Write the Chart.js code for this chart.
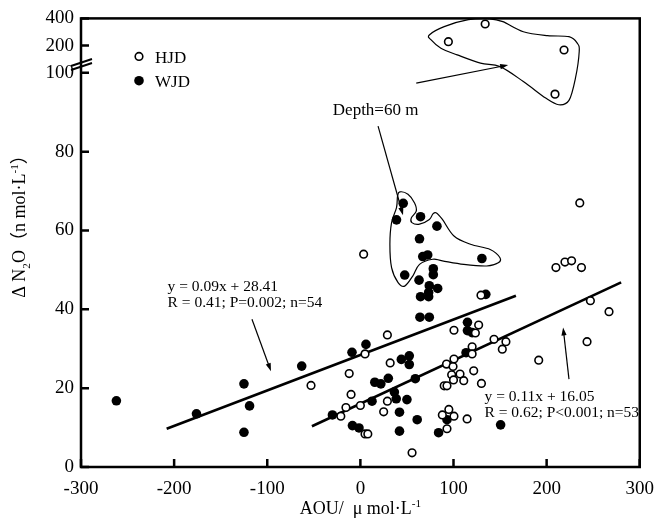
<!DOCTYPE html>
<html>
<head>
<meta charset="utf-8">
<script src="https://cdn.jsdelivr.net/npm/chart.js@4.4.1/dist/chart.umd.min.js"></script>
<style>
  html, body { margin: 0; padding: 0; background: #fff; }
</style>
</head>
<body>
<canvas id="n2oChart" width="665" height="523"></canvas>
<script>
// AOU (umol/L) against excess N2O (nmol/L), HJD and WJD stations
const hjdAou = [-53, -21, -15.5, -12, -10, 0, 5, 5, 8, 25, 29, 29, 32, 3.5, 55.5,
  88, 90, 93, 93, 92.5, 95, 98, 99.5, 100, 100.5, 100.5, 100.5, 107, 111, 114.6,
  120, 120, 121.7, 123.5, 127, 130, 143.5, 152.4, 156.3, 129.5, 191.5, 210, 219.7,
  226.8, 237.4, 235.6, 243.4, 247, 267, 209];
const hjdN2o = [20.7, 12.9, 15.1, 23.7, 18.4, 15.6, 28.7, 8.4, 8.4, 14.0, 16.7, 33.5, 26.4, 54, 3.6,
  13.2, 20.6, 20.6, 9.7, 26.1, 14.6, 23.4, 25.5, 22.1, 27.4, 12.9, 34.7, 23.6, 21.9, 12.2,
  30.5, 28.7, 24.4, 34, 36, 21.2, 32.4, 29.9, 31.8, 43.6, 27.1, 50.6, 52,
  52.3, 50.6, 67, 31.8, 42.2, 39.4, 94.6];
// HJD samples above the axis break (log segment)
const hjdHighAou = [94.5, 134, 218.7];
const hjdHighN2o = [221, 347, 179];

const wjdAou = [-262, -176, -125, -119, -125, -63, -9, 6, -30, -8.5, -1.5, 15.5, 22, 30, 12.5,
  64, 74, 44, 52.5, 52.5, 59, 36.5, 38.5, 50, 42, 61, 42, 115, 115, 120, 113.5, 93, 84, 150.6,
  46, 38.8, 64.6, 82.2, 63.5, 67, 72.3, 130.5, 47.6, 78.3, 78.3, 63, 74, 83, 73.3, 64.6, 73.3, 134.7];
const wjdN2o = [16.8, 13.5, 21.1, 15.5, 8.8, 25.6, 29.1, 31.1, 13.2, 10.5, 9.9, 21.5, 21.1, 22.5, 16.7,
  38, 38, 27.3, 28.2, 26, 22.4, 19, 17.3, 17.1, 13.9, 12, 9.1, 36.7, 34.6, 34.1, 29, 12, 8.7, 10.7,
  66.9, 62.7, 63.5, 61.1, 57.9, 53.4, 53.8, 52.9, 48.7, 50.3, 48.8, 47.4, 46, 45.3, 44.3, 43.2, 43.2, 43.8];

const xTicks = [-300, -200, -100, 0, 100, 200, 300];
const yTicks = [0, 20, 40, 60, 80, 100];
const yHighTicks = [200, 400];

// printed regressions and the AOU span each line covers
const fitWjd = { slope: 0.09, intercept: 28.41, from: -208, to: 167 };
const fitHjd = { slope: 0.11, intercept: 16.05, from: -52, to: 280 };

const FONT = "'Liberation Serif', 'Times New Roman', 'Noto Sans CJK SC', serif";

const pts = (xs, ys) => xs.map((x, i) => ({ x, y: ys[i] }));
const fitLine = f => [f.from, f.to].map(x => ({ x, y: f.slope * x + f.intercept }));

// outlines and arrows, in data units
const deepOutline = [[74, 262], [90, 324], [116, 387], [139, 396], [153, 368], [175, 285], [201, 258],
  [224, 251], [233, 212], [235, 172], [231, 98.7], [224, 93], [213, 91.9], [199, 93.6], [175, 97.8],
  [150, 117], [129, 128], [104, 158], [86.5, 187], [76, 231]];
const midOutline = [[42.3, 69.8], [51.1, 69.2], [58.2, 67.0], [60.0, 64.9], [54.7, 63.2], [55.3, 62.0],
  [63.5, 61.6], [74.1, 62.8], [77.6, 64.1], [81.2, 64.5], [88.1, 62.8], [100.5, 58.6], [118.2, 56.5],
  [139.4, 55.2], [149.9, 53.1], [148.1, 51.8], [135.8, 51.0], [111.1, 51.4], [88.1, 52.3], [77.6, 52.7],
  [63.5, 51.4], [56.4, 48.5], [47.6, 45.9], [40.5, 46.8], [33.5, 50.6], [31.7, 56.5], [33.5, 62.0],
  [38.8, 65.8], [39.9, 68.7]];
const arrows = [
  [60, 97.4, 158.7, 122],
  [19, 86.5, 45.8, 63.9],
  [-116.4, 37.5, -96, 24.3],
  [224, 22.3, 217.7, 35.4]
];
const notes = [
  { text: 'Depth=60 m', x: -29.6, y: 89.4, size: 17 },
  { text: 'y = 0.09x + 28.41', x: -207, y: 44.7, size: 15.5 },
  { text: 'R = 0.41; P=0.002; n=54', x: -207, y: 40.5, size: 15.5 },
  { text: 'y = 0.11x + 16.05', x: 133.3, y: 16.8, size: 15.5 },
  { text: 'R = 0.62; P<0.001; n=53', x: 133.3, y: 12.6, size: 15.5 }
];

function smoothLoop(ctx, p) {
  const n = p.length;
  ctx.beginPath();
  ctx.moveTo(p[0][0], p[0][1]);
  for (let i = 0; i < n; i++) {
    const p0 = p[(i - 1 + n) % n], p1 = p[i], p2 = p[(i + 1) % n], p3 = p[(i + 2) % n];
    ctx.bezierCurveTo(
      p1[0] + (p2[0] - p0[0]) / 6, p1[1] + (p2[1] - p0[1]) / 6,
      p2[0] - (p3[0] - p1[0]) / 6, p2[1] - (p3[1] - p1[1]) / 6,
      p2[0], p2[1]);
  }
  ctx.closePath();
  ctx.stroke();
}

function drawArrow(ctx, x1, y1, x2, y2) {
  const ang = Math.atan2(y2 - y1, x2 - x1);
  const len = 8, half = 2.6;
  ctx.beginPath();
  ctx.moveTo(x1, y1);
  ctx.lineTo(x2 - Math.cos(ang) * len * 0.8, y2 - Math.sin(ang) * len * 0.8);
  ctx.stroke();
  ctx.beginPath();
  ctx.moveTo(x2, y2);
  ctx.lineTo(x2 - Math.cos(ang) * len - Math.sin(ang) * half, y2 - Math.sin(ang) * len + Math.cos(ang) * half);
  ctx.lineTo(x2 - Math.cos(ang) * len + Math.sin(ang) * half, y2 - Math.sin(ang) * len - Math.cos(ang) * half);
  ctx.closePath();
  ctx.fill();
}

// text with sub/superscript pieces, centred on x
function richText(ctx, parts, x, y, size) {
  const fontOf = p => `${p.sub || p.sup ? size * 0.62 : size}px ${FONT}`;
  let total = 0;
  parts.forEach(p => { ctx.font = fontOf(p); total += ctx.measureText(p.t).width; });
  let cx = x - total / 2;
  parts.forEach(p => {
    ctx.font = fontOf(p);
    const dy = p.sub ? size * 0.28 : p.sup ? -size * 0.4 : 0;
    ctx.fillText(p.t, cx, y + dy);
    cx += ctx.measureText(p.t).width;
  });
}

const decorations = {
  id: 'decorations',
  afterDraw(chart) {
    const { ctx, chartArea: a, scales } = chart;
    const px = v => scales.x.getPixelForValue(v);
    const py = v => (v > 100 ? scales.yHigh : scales.y).getPixelForValue(v);
    ctx.save();
    ctx.strokeStyle = '#000';
    ctx.fillStyle = '#000';

    // frame and inward ticks
    ctx.lineWidth = 2.5;
    ctx.strokeRect(a.left, a.top, a.right - a.left, a.bottom - a.top);
    ctx.beginPath();
    xTicks.forEach(v => { ctx.moveTo(px(v), a.bottom); ctx.lineTo(px(v), a.bottom - 8); });
    yTicks.concat(yHighTicks).forEach(v => { ctx.moveTo(a.left, py(v)); ctx.lineTo(a.left + 8, py(v)); });
    ctx.stroke();

    // axis break marks
    const yb = scales.yHigh.getPixelForValue(130);
    ctx.lineWidth = 2;
    ctx.beginPath();
    [0, 4].forEach(off => {
      ctx.moveTo(a.left - 10, yb + 3.5 + off);
      ctx.lineTo(a.left + 11, yb - 3.5 + off);
    });
    ctx.stroke();

    // outlines around the 60 m samples
    ctx.lineWidth = 1.2;
    smoothLoop(ctx, deepOutline.map(([x, y]) => [px(x), py(y)]));
    smoothLoop(ctx, midOutline.map(([x, y]) => [px(x), py(y)]));
    arrows.forEach(([x1, y1, x2, y2]) => drawArrow(ctx, px(x1), py(y1), px(x2), py(y2)));

    ctx.textBaseline = 'alphabetic';
    ctx.textAlign = 'left';
    notes.forEach(n => {
      ctx.font = `${n.size}px ${FONT}`;
      ctx.fillText(n.text, px(n.x), py(n.y));
    });

    // legend
    const lx = a.left + 58, ly = a.top + 38;
    ctx.lineWidth = 1.6;
    ctx.beginPath();
    ctx.arc(lx, ly, 3.8, 0, Math.PI * 2);
    ctx.fillStyle = '#fff';
    ctx.fill();
    ctx.stroke();
    ctx.fillStyle = '#000';
    ctx.beginPath();
    ctx.arc(lx, ly + 24.3, 4.8, 0, Math.PI * 2);
    ctx.fill();
    ctx.font = `17px ${FONT}`;
    ctx.fillText('HJD', lx + 16, ly + 7);
    ctx.fillText('WJD', lx + 16, ly + 31);

    // axis titles
    richText(ctx, [{ t: 'AOU/  \u03bc mol\u00b7L' }, { t: '-1', sup: true }], (a.left + a.right) / 2, 514, 18);
    ctx.translate(25, 222);
    ctx.rotate(-Math.PI / 2);
    richText(ctx, [{ t: '\u0394 N' }, { t: '2', sub: true }, { t: 'O\uff08n mol\u00b7L' }, { t: '-1', sup: true }, { t: '\uff09' }], 0, 0, 18);
    ctx.restore();
  }
};

const tickFont = { family: FONT, size: 19 };
const setTicks = list => scale => { scale.ticks = list.map(v => ({ value: v })); };

new Chart(document.getElementById('n2oChart').getContext('2d'), {
  type: 'scatter',
  data: {
    datasets: [
      {
        label: 'HJD', data: pts(hjdAou, hjdN2o), yAxisID: 'y',
        pointRadius: 3.8, pointHoverRadius: 3.8, backgroundColor: '#fff', borderColor: '#000', borderWidth: 1.6
      },
      {
        label: 'HJD', data: pts(hjdHighAou, hjdHighN2o), yAxisID: 'yHigh',
        pointRadius: 3.8, pointHoverRadius: 3.8, backgroundColor: '#fff', borderColor: '#000', borderWidth: 1.6
      },
      {
        label: 'WJD', data: pts(wjdAou, wjdN2o), yAxisID: 'y',
        pointRadius: 4.8, pointHoverRadius: 4.8, backgroundColor: '#000', borderColor: '#000', borderWidth: 0
      },
      {
        label: 'WJD fit', data: fitLine(fitWjd), yAxisID: 'y', showLine: true,
        pointRadius: 0, borderColor: '#000', borderWidth: 2.6
      },
      {
        label: 'HJD fit', data: fitLine(fitHjd), yAxisID: 'y', showLine: true,
        pointRadius: 0, borderColor: '#000', borderWidth: 2.6
      }
    ]
  },
  options: {
    responsive: false,
    animation: false,
    layout: { padding: { top: 17, right: 16, left: 0, bottom: 0 } },
    plugins: { legend: { display: false }, tooltip: { enabled: false } },
    scales: {
      x: {
        type: 'linear', min: -300, max: 300,
        afterBuildTicks: setTicks(xTicks),
        afterFit: s => { s.height = 56; },
        grid: { display: false, drawTicks: false },
        border: { display: false },
        ticks: { padding: 11, color: '#000', font: tickFont, maxRotation: 0 }
      },
      y: {
        type: 'linear', min: 0, max: 100, position: 'left',
        stack: 'n2o', stackWeight: 7.24,
        afterBuildTicks: setTicks(yTicks),
        afterFit: s => { s.width = 81; },
        grid: { display: false, drawTicks: false },
        border: { display: false },
        ticks: { padding: 7, color: '#000', font: tickFont }
      },
      yHigh: {
        type: 'logarithmic', min: 100, max: 400, position: 'left',
        stack: 'n2o', stackWeight: 1,
        afterBuildTicks: setTicks(yHighTicks),
        afterFit: s => { s.width = 81; },
        grid: { display: false, drawTicks: false },
        border: { display: false },
        ticks: { padding: 7, color: '#000', font: tickFont, callback: v => String(v) }
      }
    }
  },
  plugins: [decorations]
});
</script>
</body>
</html>
